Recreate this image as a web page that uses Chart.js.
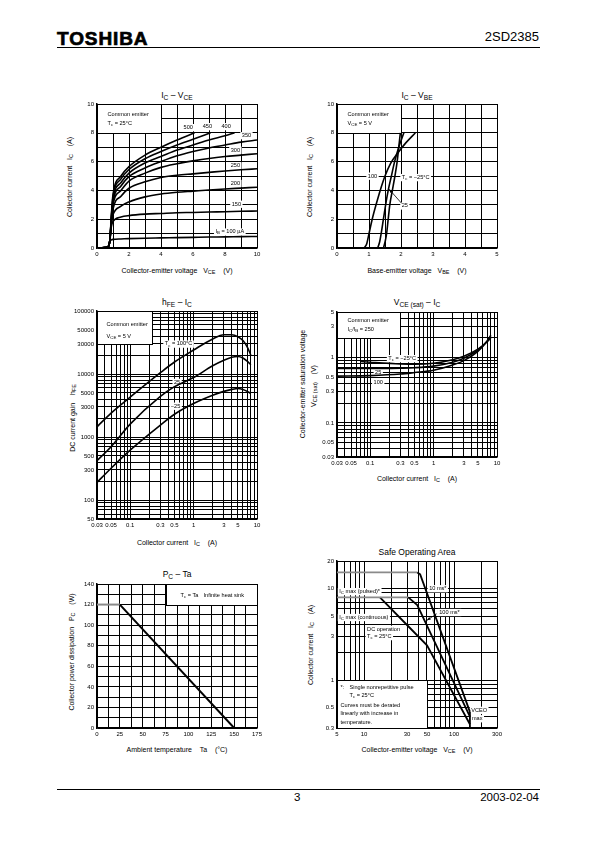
<!DOCTYPE html>
<html>
<head>
<meta charset="utf-8">
<script src="https://cdn.jsdelivr.net/npm/chart.js@4.4.0/dist/chart.umd.min.js"></script>
<style>
body{margin:0;width:595px;height:842px;position:relative;background:#fff;color:#000;overflow:hidden;font-family:"Liberation Sans",Arial,sans-serif}
canvas{position:absolute}
.t{position:absolute;white-space:nowrap;line-height:1}
.ttl{font-size:8.5px;transform:translate(-50%,-50%)}
.xt{font-size:7px;transform:translate(-50%,-50%)}
.yt{font-size:7px;transform:translate(-50%,-50%) rotate(-90deg)}
sub{font-size:78%;vertical-align:-0.28em;line-height:0}
.rule{position:absolute;left:57px;width:483px;border-top:1px solid #000}
</style>
</head>
<body>
<div class="t" style="left:57px;top:29px;font-size:19px;font-weight:bold;letter-spacing:0.9px;-webkit-text-stroke:0.7px #000">TOSHIBA</div>
<div class="t" style="right:56px;top:30px;font-size:13px">2SD2385</div>
<div class="rule" style="top:47px"></div>
<div class="rule" style="top:789px"></div>
<div class="t" style="left:294px;top:792px;font-size:11.5px">3</div>
<div class="t" style="right:56px;top:792px;font-size:11.5px">2003-02-04</div>

<div class="t ttl" style="left:177px;top:95px">I<sub>C</sub> – V<sub>CE</sub></div>
<div class="t ttl" style="left:417px;top:95px">I<sub>C</sub> – V<sub>BE</sub></div>
<div class="t ttl" style="left:177px;top:302px">h<sub>FE</sub> – I<sub>C</sub></div>
<div class="t ttl" style="left:417px;top:302px">V<sub>CE (sat)</sub> – I<sub>C</sub></div>
<div class="t ttl" style="left:177px;top:574px">P<sub>C</sub> – Ta</div>
<div class="t ttl" style="left:417px;top:552px">Safe Operating Area</div>

<div class="t xt" style="left:177px;top:270px">Collector-emitter voltage&nbsp;&nbsp;&nbsp;V<sub>CE</sub>&nbsp;&nbsp;&nbsp;&nbsp;(V)</div>
<div class="t xt" style="left:417px;top:270px">Base-emitter voltage&nbsp;&nbsp;&nbsp;V<sub>BE</sub>&nbsp;&nbsp;&nbsp;&nbsp;(V)</div>
<div class="t xt" style="left:177px;top:542px">Collector current&nbsp;&nbsp;&nbsp;I<sub>C</sub>&nbsp;&nbsp;&nbsp;&nbsp;(A)</div>
<div class="t xt" style="left:417px;top:478px">Collector current&nbsp;&nbsp;&nbsp;I<sub>C</sub>&nbsp;&nbsp;&nbsp;&nbsp;(A)</div>
<div class="t xt" style="left:177px;top:749px">Ambient temperature&nbsp;&nbsp;&nbsp;&nbsp;Ta&nbsp;&nbsp;&nbsp;&nbsp;(°C)</div>
<div class="t xt" style="left:417px;top:749px">Collector-emitter voltage&nbsp;&nbsp;&nbsp;V<sub>CE</sub>&nbsp;&nbsp;&nbsp;&nbsp;(V)</div>

<div class="t yt" style="left:69px;top:177px">Collector current&nbsp;&nbsp;&nbsp;I<sub>C</sub>&nbsp;&nbsp;&nbsp;&nbsp;(A)</div>
<div class="t yt" style="left:309px;top:177px">Collector current&nbsp;&nbsp;&nbsp;I<sub>C</sub>&nbsp;&nbsp;&nbsp;&nbsp;(A)</div>
<div class="t yt" style="left:72px;top:418px">DC current gain&nbsp;&nbsp;&nbsp;&nbsp;h<sub>FE</sub></div>
<div class="t yt" style="left:302px;top:384px">Collector-emitter saturation voltage</div>
<div class="t yt" style="left:313px;top:386px">V<sub>CE (sat)</sub>&nbsp;&nbsp;&nbsp;&nbsp;(V)</div>
<div class="t yt" style="left:71px;top:652px">Collector power dissipation&nbsp;&nbsp;&nbsp;P<sub>C</sub>&nbsp;&nbsp;&nbsp;&nbsp;(W)</div>
<div class="t yt" style="left:310px;top:645px">Collector current&nbsp;&nbsp;&nbsp;I<sub>C</sub>&nbsp;&nbsp;&nbsp;&nbsp;(A)</div>

<script>
// 2SD2385 characteristic curves, page 3

// IC - VCE, Tc = 25°C : [VCE (V), IC (A)] per base current
const ib100 = [[0,0],[0.5,0.03],[0.7,0.1],[0.8,0.45],[0.9,0.56],[1,0.6],[1.5,0.63],[2,0.65],[3,0.68],[4,0.7],[5,0.72],[6,0.74],[7,0.76],[8,0.77],[9,0.79],[10,0.8]];
const ib150 = [[0,0],[0.5,0.03],[0.7,0.1],[0.8,0.5],[0.9,1.5],[1,1.85],[1.5,2.15],[2,2.25],[3,2.35],[4,2.4],[5,2.45],[6,2.47],[7,2.5],[8,2.52],[9,2.55],[10,2.57]];
const ib200 = [[0,0],[0.5,0.03],[0.7,0.1],[0.8,0.5],[0.9,1.7],[1,2.3],[1.5,2.9],[2,3.2],[3,3.55],[4,3.75],[5,3.87],[6,3.95],[7,4.03],[8,4.1],[9,4.16],[10,4.22]];
const ib250 = [[0,0],[0.5,0.03],[0.7,0.1],[0.8,0.5],[0.9,1.8],[1,2.7],[1.5,3.6],[2,4.15],[3,4.6],[4,4.9],[5,5.05],[6,5.15],[7,5.25],[8,5.35],[9,5.43],[10,5.5]];
const ib300 = [[0,0],[0.5,0.03],[0.7,0.1],[0.8,0.5],[0.9,1.9],[1,3.0],[1.5,4.0],[2,4.65],[3,5.2],[4,5.6],[5,5.85],[6,6.05],[7,6.22],[8,6.35],[9,6.45],[10,6.55]];
const ib350 = [[0,0],[0.5,0.03],[0.7,0.1],[0.8,0.5],[0.9,2.0],[1,3.2],[1.5,4.3],[2,4.95],[3,5.55],[4,6.0],[5,6.4],[6,6.7],[7,6.95],[8,7.15],[9,7.35],[10,7.5]];
const ib400 = [[0,0],[0.5,0.03],[0.7,0.1],[0.8,0.5],[0.9,2.1],[1,3.4],[1.5,4.55],[2,5.2],[3,5.9],[4,6.35],[5,6.8],[6,7.15],[7,7.5],[8,7.8],[8.6,8]];
const ib450 = [[0,0],[0.5,0.03],[0.7,0.1],[0.8,0.5],[0.9,2.2],[1,3.55],[1.5,4.8],[2,5.45],[3,6.2],[4,6.7],[5,7.15],[6,7.55],[7.1,8]];
const ib500 = [[0,0],[0.5,0.03],[0.7,0.1],[0.8,0.5],[0.9,2.3],[1,3.7],[1.5,5.0],[2,5.65],[3,6.45],[4,7.0],[5,7.5],[6.1,8]];
const c1XLabels = [0, 2, 4, 6, 8, 10];
const c1YLabels = [0, 2, 4, 6, 8, 10];

// IC - VBE, VCE = 5 V : [VBE (V), IC (A)]
const vbe100 = [[0.85,0],[0.93,0.3],[1.0,1],[1.1,2],[1.22,3],[1.35,4],[1.5,5],[1.68,5.9],[1.9,6.6],[2.15,7.3],[2.45,8]];
const vbe25 = [[1.27,0],[1.33,0.4],[1.38,1],[1.45,2],[1.52,3],[1.6,4],[1.7,5],[1.8,6],[1.93,7],[2.09,8]];
const vbeM25 = [[1.45,0],[1.5,0.4],[1.55,1],[1.6,2],[1.65,3],[1.73,4],[1.81,5],[1.88,6],[1.93,7],[1.98,8]];
const c2XLabels = [0, 1, 2, 3, 4, 5];
const c2YLabels = [0, 2, 4, 6, 8, 10];

// hFE - IC, VCE = 5 V
const hfeIc = [0.03, 0.05, 0.1, 0.3, 0.5, 1, 2, 3, 4, 5, 6, 7, 8];
const hfe100 = [1450, 2400, 4300, 10500, 15500, 24000, 36000, 42000, 42000, 39000, 34000, 27000, 20000];
const hfe25 = [420, 700, 1600, 4400, 6300, 8800, 13500, 16500, 18500, 19000, 18000, 16000, 14000];
const hfeM25 = [190, 320, 620, 1550, 2300, 3400, 4600, 5300, 5700, 5900, 5700, 5300, 4900];
const c3XLabels = ['0.03', '0.05', '0.1', '0.3', '0.5', '1', '3', '5', '10'];
const c3YLabels = ['50', '100', '300', '500', '1000', '3000', '5000', '10000', '30000', '50000', '100000'];

// VCE(sat) - IC, IC/IB = 250 : [IC (A), VCE(sat) (V)]
const satM25 = [[0.07,0.87],[0.1,0.85],[0.3,0.8],[0.5,0.79],[1,0.82],[2,0.93],[3,1.05],[5,1.35],[7,1.75],[8,2.0]];
const sat25 = [[0.03,0.68],[0.1,0.68],[0.3,0.69],[0.5,0.7],[1,0.74],[2,0.85],[3,0.98],[5,1.3],[7,1.78],[8,2.1]];
const sat100 = [[0.03,0.52],[0.1,0.53],[0.3,0.56],[0.5,0.59],[1,0.64],[2,0.77],[3,0.9],[5,1.25],[7,1.8],[8,2.2]];
const c4XLabels = ['0.03', '0.05', '0.1', '0.3', '0.5', '1', '3', '5', '10'];
const c4YLabels = ['0.03', '0.05', '0.1', '0.3', '0.5', '1', '3', '5'];

// PC - Ta
const pcTa = [0, 25, 150];
const pcWatts = [120, 120, 0];
const c5XLabels = [0, 25, 50, 75, 100, 125, 150, 175];
const c5YLabels = [0, 20, 40, 60, 80, 100, 120, 140];

// Safe operating area : [VCE (V), IC (A)]
const soa10ms = [[5,15],[39,15],[42,14.3],[150,0.45]];
const soa100ms = [[5,8],[31,8],[39,6.6],[150,0.4]];
const soaDc = [[15,8],[30,4],[50,2.4],[150,0.33]];
const soaVceo = [[150,0.45],[150,0.3]];
const c6XLabels = ['5', '10', '30', '50', '100', '300'];
const c6YLabels = ['0.3', '0.5', '1', '3', '5', '10', '20'];

const BLACK = '#000';
const GRAY = '#8a8a8a';
const FONT = 'Liberation Sans, Arial, sans-serif';
const NOTE_SIZE = 5.6;
Chart.defaults.font.family = FONT;
Chart.defaults.color = BLACK;

function parseRich(str) {
    const out = [];
    const re = /_\{([^}]*)\}/g;
    let last = 0, m;
    while ((m = re.exec(str))) {
        if (m.index > last) out.push({t: str.slice(last, m.index), sub: false});
        out.push({t: m[1], sub: true});
        last = re.lastIndex;
    }
    if (last < str.length) out.push({t: str.slice(last), sub: false});
    return out;
}

function drawRich(ctx, str, x, y, align, size, bg) {
    const segs = parseRich(str);
    let w = 0;
    segs.forEach(s => {
        ctx.font = (s.sub ? size * 0.78 : size) + 'px ' + FONT;
        s.w = ctx.measureText(s.t).width;
        w += s.w;
    });
    let cx = align === 'center' ? x - w / 2 : (align === 'right' ? x - w : x);
    if (bg) {
        ctx.fillStyle = '#fff';
        ctx.fillRect(cx - 1.5, y - size * 0.62, w + 3, size * 1.3);
    }
    ctx.fillStyle = BLACK;
    ctx.textBaseline = 'middle';
    ctx.textAlign = 'left';
    segs.forEach(s => {
        ctx.font = (s.sub ? size * 0.78 : size) + 'px ' + FONT;
        ctx.fillText(s.t, cx, s.sub ? y + size * 0.25 : y);
        cx += s.w;
    });
}

// boxes, curve labels and arrows for each chart (positions in data units)
const notes = {
    c1: {
        boxes: [{x0: 0, x1: 4, y0: 8, y1: 10, lines: [[10, 10, 'Common emitter'], [10, 19, 'T_{c} = 25°C']]}],
        labels: [['500', 5.7, 8.37], ['450', 6.9, 8.44], ['400', 8.07, 8.44], ['350', 9.34, 7.81], ['300', 8.65, 6.8],
                 ['250', 8.65, 5.72], ['200', 8.65, 4.49], ['150', 8.71, 3.05], ['I_{B} = 100 µA', 8.3, 1.12]]
    },
    c2: {
        boxes: [{x0: 0, x1: 2, y0: 8, y1: 10, lines: [[10, 10, 'Common emitter'], [10, 19, 'V_{CE} = 5 V']]}],
        labels: [['100', 1.11, 5.0], ['T_{c} = −25°C', 2.46, 4.9], ['25', 2.12, 2.93]],
        arrows: [[2.02, 3.1, 1.63, 4.08]]
    },
    c3: {
        boxes: [{x0: 0.03, x1: 0.22, y0: 30000, y1: 100000, lines: [[9, 12.5, 'Common emitter'], [9, 24.5, 'V_{CE} = 5 V']]}],
        labels: [['T_{c} = 100°C', 0.58, 30000], ['25', 0.55, 7400], ['−25', 0.52, 3100]]
    },
    c4: {
        boxes: [{x0: 0.03, x1: 0.3, y0: 2, y1: 5, lines: [[10, 7.7, 'Common emitter'], [10, 17, 'I_{C}/I_{B} = 250']]}],
        labels: [['T_{c} = −25°C', 0.32, 0.97], ['25', 0.134, 0.6], ['100', 0.134, 0.41]]
    },
    c5: {
        boxes: [{x0: 75, x1: 175, y0: 120, y1: 140, lines: [[14, 10.5, 'T_{c} = Ta'], [37, 10.5, 'Infinite heat sink']]}],
        labels: []
    },
    c6: {
        boxes: [{x0: 5, x1: 50, y0: 0.3, y1: 1, lines: [[3, 7, '*:'], [12, 7, 'Single nonrepetitive pulse'], [12, 15, 'T_{c} = 25°C'],
                 [3, 25, 'Curves must be derated'], [3, 33, 'linearly with increase in'], [3, 42, 'temperature.']]}],
        labels: [['I_{C} max (pulsed)*', 5.3, 9.3, 'left'], ['I_{C} max (continuous)', 5.3, 4.85, 'left'],
                 ['DC operation', 10.8, 3.6, 'left'], ['T_{c} = 25°C', 10.8, 3.0, 'left'],
                 ['10 ms*', 66, 10], ['100 ms*', 89, 5.5], ['VCEO', 155, 0.47, 'left'], ['max', 158, 0.38, 'left']],
        arrows: [[64, 5.3, 50, 4.5]]
    }
};

const notesPlugin = {
    id: 'notes',
    beforeDatasetsDraw(chart) {
        const n = notes[chart.canvas.id];
        if (!n) return;
        const {ctx, scales: {x, y}} = chart;
        ctx.save();
        n.boxes.forEach(b => {
            const l = Math.round(x.getPixelForValue(b.x0)) + 0.5;
            const r = Math.round(x.getPixelForValue(b.x1)) + 0.5;
            const t = Math.round(y.getPixelForValue(b.y1)) + 0.5;
            const bt = Math.round(y.getPixelForValue(b.y0)) + 0.5;
            ctx.fillStyle = '#fff';
            ctx.fillRect(l, t, r - l, bt - t);
            ctx.strokeStyle = BLACK;
            ctx.lineWidth = 1;
            ctx.strokeRect(l, t, r - l, bt - t);
            b.lines.forEach(ln => drawRich(ctx, ln[2], l + ln[0], t + ln[1], 'left', NOTE_SIZE));
        });
        n.labels.forEach(lb => {
            drawRich(ctx, lb[0], x.getPixelForValue(lb[1]), y.getPixelForValue(lb[2]), lb[3] || 'center', NOTE_SIZE, true);
        });
        ctx.restore();
    },
    afterDatasetsDraw(chart) {
        const n = notes[chart.canvas.id];
        if (!n || !n.arrows) return;
        const {ctx, scales: {x, y}} = chart;
        ctx.save();
        ctx.strokeStyle = BLACK;
        ctx.fillStyle = BLACK;
        ctx.lineWidth = 0.8;
        n.arrows.forEach(a => {
            const x0 = x.getPixelForValue(a[0]), y0 = y.getPixelForValue(a[1]);
            const x1 = x.getPixelForValue(a[2]), y1 = y.getPixelForValue(a[3]);
            const ang = Math.atan2(y1 - y0, x1 - x0);
            ctx.beginPath();
            ctx.moveTo(x0, y0);
            ctx.lineTo(x1, y1);
            ctx.stroke();
            ctx.beginPath();
            ctx.moveTo(x1, y1);
            ctx.lineTo(x1 - 4 * Math.cos(ang - 0.4), y1 - 4 * Math.sin(ang - 0.4));
            ctx.lineTo(x1 - 4 * Math.cos(ang + 0.4), y1 - 4 * Math.sin(ang + 0.4));
            ctx.closePath();
            ctx.fill();
        });
        ctx.restore();
    }
};

function logGrid(min, max) {
    const out = [];
    for (let e = Math.floor(Math.log10(min)); e <= Math.ceil(Math.log10(max)); e++) {
        for (let d = 1; d < 10; d++) {
            const v = parseFloat((d * Math.pow(10, e)).toPrecision(6));
            if (v >= min * 0.999 && v <= max * 1.001) out.push(v);
        }
    }
    return out;
}

function linAxis(min, max, step, labels, horizontal) {
    return {
        type: 'linear', min: min, max: max,
        grid: {color: BLACK, lineWidth: 1, drawTicks: false},
        border: {color: BLACK, width: 1.5},
        ticks: {
            stepSize: step, autoSkip: false, maxRotation: 0, padding: 3,
            font: {size: 6}, color: BLACK,
            callback: v => labels.includes(v) ? String(v) : ''
        },
        afterFit: s => { if (horizontal) s.height = 14; else s.width = 40; }
    };
}

function logAxis(min, max, labels, horizontal) {
    return {
        type: 'logarithmic', min: min, max: max,
        grid: {color: BLACK, lineWidth: 1, drawTicks: false},
        border: {color: BLACK, width: 1.5},
        afterBuildTicks: s => { s.ticks = logGrid(min, max).map(v => ({value: v})); },
        ticks: {
            autoSkip: false, maxRotation: 0, padding: 3,
            font: {size: 6}, color: BLACK,
            callback: v => labels.find(s => parseFloat(s) === v) || ''
        },
        afterFit: s => { if (horizontal) s.height = 14; else s.width = 40; }
    };
}

function pairs(arr) {
    return arr.map(p => ({x: p[0], y: p[1]}));
}

function curve(data, extra) {
    return Object.assign({
        data: data, borderColor: BLACK, borderWidth: 1.6, pointRadius: 0,
        fill: false, cubicInterpolationMode: 'monotone'
    }, extra || {});
}

// gray for the flat current/power limit segments
const flatGray = {
    borderColor: ctx => ctx.p0.parsed.y === ctx.p1.parsed.y ? GRAY : BLACK
};

function makeChart(id, plot, datasets, xAxis, yAxis) {
    const cv = document.createElement('canvas');
    cv.id = id;
    cv.width = plot.w + 52;
    cv.height = plot.h + 22;
    cv.style.left = (plot.l - 40) + 'px';
    cv.style.top = (plot.t - 8) + 'px';
    document.body.appendChild(cv);
    return new Chart(cv.getContext('2d'), {
        type: 'line',
        data: {datasets: datasets},
        options: {
            responsive: false,
            maintainAspectRatio: false,
            animation: false,
            devicePixelRatio: 1,
            layout: {padding: {left: 0, top: 8, right: 12, bottom: 0}},
            scales: {x: xAxis, y: yAxis},
            plugins: {legend: {display: false}, tooltip: {enabled: false}}
        },
        plugins: [notesPlugin]
    });
}

document.addEventListener('DOMContentLoaded', () => {
    makeChart('c1', {l: 97, t: 104, w: 160, h: 144},
        [ib100, ib150, ib200, ib250, ib300, ib350, ib400, ib450, ib500].map(c => curve(pairs(c))),
        linAxis(0, 10, 1, c1XLabels, true), linAxis(0, 10, 1, c1YLabels, false));

    makeChart('c2', {l: 337, t: 104, w: 160, h: 144},
        [vbe100, vbe25, vbeM25].map(c => curve(pairs(c))),
        linAxis(0, 5, 0.5, c2XLabels, true), linAxis(0, 10, 1, c2YLabels, false));

    makeChart('c3', {l: 97, t: 311, w: 160, h: 208},
        [hfe100, hfe25, hfeM25].map(c => curve(hfeIc.map((ic, i) => ({x: ic, y: c[i]})))),
        logAxis(0.03, 10, c3XLabels, true), logAxis(50, 100000, c3YLabels, false));

    makeChart('c4', {l: 337, t: 312, w: 160, h: 145},
        [satM25, sat25, sat100].map(c => curve(pairs(c))),
        logAxis(0.03, 10, c4XLabels, true), logAxis(0.03, 5, c4YLabels, false));

    makeChart('c5', {l: 97, t: 584, w: 160, h: 144},
        [curve(pcTa.map((t, i) => ({x: t, y: pcWatts[i]})), {borderWidth: 2, cubicInterpolationMode: 'default', tension: 0, segment: flatGray})],
        linAxis(0, 175, 12.5, c5XLabels, true), linAxis(0, 140, 10, c5YLabels, false));

    makeChart('c6', {l: 337, t: 561, w: 160, h: 167},
        [soa10ms, soa100ms, soaDc, soaVceo].map(c => curve(pairs(c), {borderWidth: 1.8, cubicInterpolationMode: 'default', tension: 0, segment: flatGray})),
        logAxis(5, 300, c6XLabels, true), logAxis(0.3, 20, c6YLabels, false));
});
</script>
</body>
</html>
